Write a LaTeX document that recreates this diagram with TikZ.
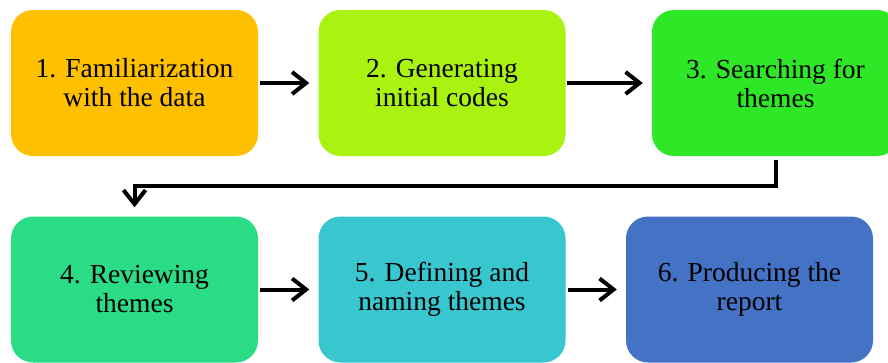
\documentclass[tikz,border=0pt]{standalone}
\usepackage{fontspec}
\setmainfont{Liberation Serif}
\usetikzlibrary{arrows.meta}

\definecolor{cOne}{HTML}{FFC000}
\definecolor{cTwo}{HTML}{AAF20F}
\definecolor{cThree}{HTML}{2EE828}
\definecolor{cFour}{HTML}{2BDC86}
\definecolor{cFive}{HTML}{38C6CF}
\definecolor{cSix}{HTML}{4472C4}

\tikzset{
  phase/.style={draw=none, rounded corners=22pt, minimum width=247pt,
    minimum height=146pt, align=center, inner sep=0pt,
    font=\rmfamily\fontsize{27.5}{29}\selectfont},
  link/.style={line width=4pt,
    -{Straight Barb[length=14pt,width=22pt,line width=4pt]}}
}

\begin{document}
\begin{tikzpicture}[x=1pt,y=-1pt]
  \clip (0,0) rectangle (888,362);
  \fill[white] (0,0) rectangle (888,362);

  \node[phase, fill=cOne]   (b1) at (134.5,83)  {1. Familiarization\\with the data};
  \node[phase, fill=cTwo]   (b2) at (442,83)    {2. Generating\\initial codes};
  \node[phase, fill=cThree] (b3) at (775.5,83)  {3. Searching for\\themes};
  \node[phase, fill=cFour]  (b4) at (134.5,289.5) {4. Reviewing\\themes};
  \node[phase, fill=cFive]  (b5) at (442,289.5)   {5. Defining and\\naming themes};
  \node[phase, fill=cSix]   (b6) at (749.5,289.5) {6. Producing the\\report};

  \draw[link, shorten <=2pt, shorten >=9pt] (b1) -- (b2);
  \draw[link, shorten <=1pt, shorten >=9pt] (b2) -- (b3);
  \draw[link, shorten <=4pt, shorten >=9pt] (b3.south) -- ++(0,30) -| (b4.north);
  \draw[link, shorten <=2pt, shorten >=9pt] (b4) -- (b5);
  \draw[link, shorten <=2pt, shorten >=9pt] (b5) -- (b6);
\end{tikzpicture}
\end{document}
